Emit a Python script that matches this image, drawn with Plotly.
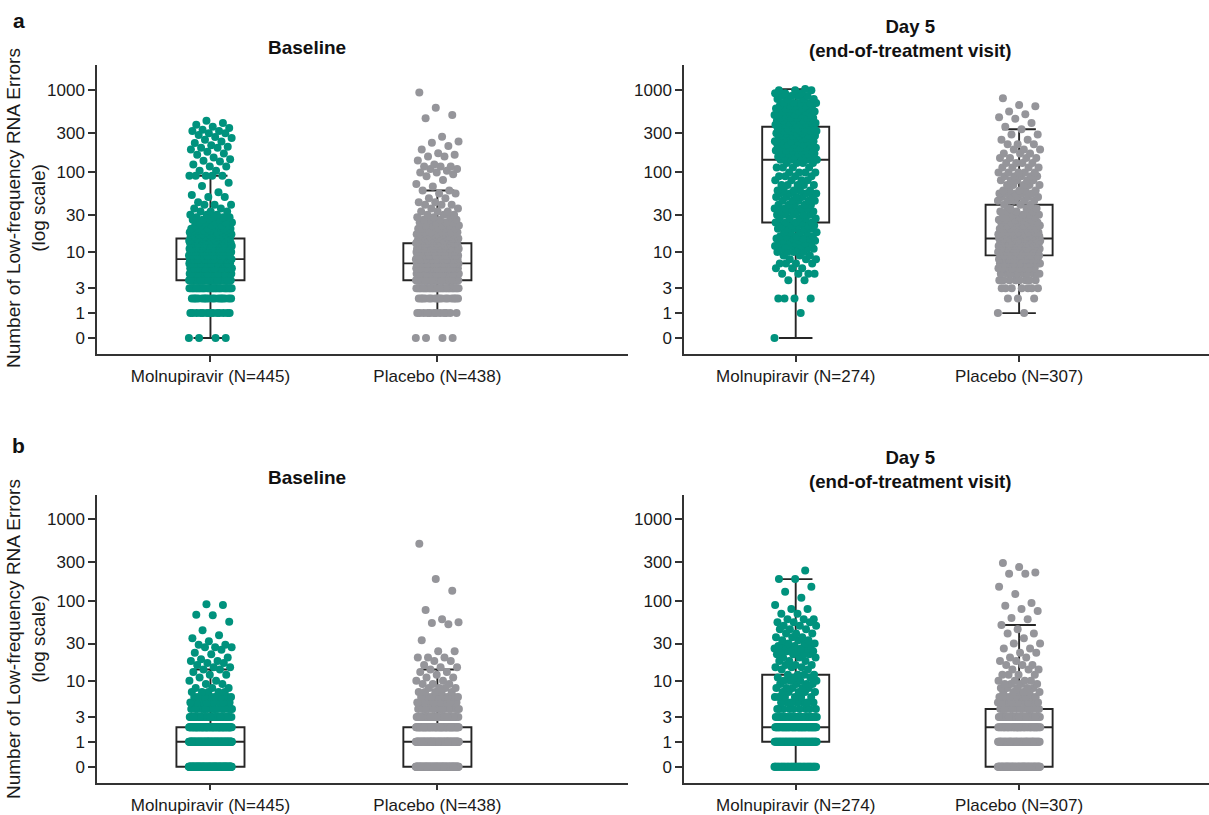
import numpy as np
import plotly.graph_objects as go

# ---------------- data (counts of low-frequency RNA errors) ----------------
group_labels_base = ["Molnupiravir (N=445)", "Placebo (N=438)"]
group_labels_day5 = ["Molnupiravir (N=274)", "Placebo (N=307)"]
tick_counts = [0, 1, 3, 10, 30, 100, 300, 1000]

# Panel a - Baseline
a_base_mol_vals = [0, 1, 2, 3, 4, 5, 6, 7, 8, 9, 10, 11, 12, 13, 14, 15, 16, 17, 18, 19, 20, 22, 24, 26, 28,
                   30, 33, 36, 40, 43, 50, 53, 57, 68, 75, 91, 105, 118, 125, 136, 139, 145, 152, 164, 170,
                   179, 190, 200, 205, 215, 228, 238, 250, 262, 270, 285, 300, 320, 330, 347, 360, 380, 400, 425]
a_base_mol_counts = [4, 14, 16, 32, 40, 32, 30, 28, 27, 23, 20, 18, 16, 13, 11, 10, 9, 8, 7, 6, 6, 6, 5, 4, 4,
                     3, 3, 2, 3, 1, 2, 1, 1, 1, 1, 5, 2, 2, 1, 1, 1, 1, 1, 1, 1,
                     1, 1, 2, 1, 1, 1, 1, 1, 1, 1, 1, 2, 2, 1, 1, 1, 1, 1, 1]
a_base_pla_vals = [0, 1, 2, 3, 4, 5, 6, 7, 8, 9, 10, 11, 12, 13, 14, 15, 16, 17, 18, 20, 22, 24, 26, 28, 30,
                   33, 36, 40, 43, 48, 55, 60, 67, 72, 81, 90, 95, 100, 105, 110, 118, 125, 140, 156, 164,
                   172, 190, 210, 230, 238, 273, 455, 500, 612, 935]
a_base_pla_counts = [4, 12, 16, 34, 48, 36, 34, 33, 23, 23, 21, 18, 14, 12, 10, 9, 8, 7, 6, 7, 5, 4, 4, 3, 3,
                     3, 2, 3, 2, 2, 2, 2, 1, 1, 1, 1, 1, 2, 1, 2, 3, 1, 1, 2, 1,
                     1, 1, 1, 1, 1, 1, 1, 1, 1, 1]

# Panel a - Day 5
a_day5_mol_vals = [0, 1, 2, 4, 5, 6, 7, 8, 9, 10, 11, 12, 13, 14, 15, 16, 18, 20, 22, 24,
                   27, 30, 33, 36, 40, 45, 50, 55, 60, 70, 80, 90, 100, 115, 130,
                   143, 155, 170, 185, 200, 220, 240, 260, 280, 300, 320, 340,
                   380, 400, 430, 460, 500, 550, 600, 650, 700, 780, 850, 920, 1000, 1030]
a_day5_mol_counts = [1, 1, 4, 2, 4, 3, 4, 3, 3, 4, 4, 4, 4, 4, 4, 4, 5, 5, 5, 5,
                     5, 5, 4, 5, 5, 5, 5, 4, 5, 5, 4, 4, 4, 4, 4,
                     4, 5, 6, 5, 6, 6, 6, 6, 6, 6, 6, 6,
                     6, 6, 6, 6, 6, 5, 5, 5, 5, 4, 4, 3, 3, 1]
a_day5_pla_vals = [1, 2, 3, 4, 5, 6, 7, 8, 9, 10, 11, 12, 13, 14, 15, 16, 17, 18, 20, 22, 24, 26, 28,
                   30, 33, 36, 40, 45, 50, 55, 60, 70, 80, 90, 100, 115, 130, 150, 170, 190, 220,
                   250, 290, 335, 360, 400, 450, 470, 510, 550, 640, 660, 800]
a_day5_pla_counts = [2, 3, 7, 8, 10, 12, 14, 16, 16, 15, 14, 13, 12, 11, 10, 9, 8, 7, 8, 7, 6, 5, 5,
                     4, 4, 3, 3, 5, 5, 5, 5, 5, 5, 5, 5, 4, 4, 4, 3, 3, 3,
                     2, 2, 1, 1, 1, 1, 1, 1, 1, 1, 1, 1]

# Panel b - Baseline
b_base_mol_vals = [0, 1, 2, 3, 4, 5, 6, 7, 8, 9, 10, 11, 12, 13, 14, 15, 16, 17, 18, 19, 20, 22, 23, 25,
                   27, 29, 32, 35, 38, 44, 56, 67, 68, 90, 92]
b_base_mol_counts = [135, 125, 75, 28, 16, 12, 10, 5, 3, 2, 2, 1, 2, 1, 2, 2, 1, 2, 2, 1, 1, 1, 1, 1,
                     3, 2, 1, 1, 1, 1, 1, 1, 1, 1, 1]
b_base_pla_vals = [0, 1, 2, 3, 4, 5, 6, 7, 8, 9, 10, 11, 12, 13, 14, 15, 16, 18, 20, 24, 33, 52, 54, 55,
                   60, 78, 134, 186, 500]
b_base_pla_counts = [129, 125, 80, 30, 16, 11, 8, 5, 4, 3, 2, 2, 1, 2, 1, 2, 1, 2, 3, 2, 1, 1, 1, 1,
                     1, 1, 1, 1, 1]

# Panel b - Day 5
b_day5_mol_vals = [0, 1, 2, 3, 4, 5, 6, 7, 8, 9, 10, 11, 12, 14, 15, 16, 18, 20, 22, 24, 26, 28,
                   30, 33, 36, 40, 45, 50, 55, 60, 70, 80, 90, 110, 130, 150, 186, 237]
b_day5_mol_counts = [35, 55, 50, 22, 9, 7, 6, 5, 5, 4, 4, 3, 4, 2, 3, 3, 3, 3, 4, 4, 4, 4,
                     3, 3, 3, 3, 3, 3, 3, 3, 2, 2, 1, 1, 1, 1, 2, 1]
b_day5_pla_vals = [0, 1, 2, 3, 4, 5, 6, 7, 8, 9, 10, 12, 14, 16, 18, 20, 23, 26, 30, 35, 40, 45, 51,
                   60, 62, 76, 80, 88, 95, 122, 150, 216, 224, 260, 291]
b_day5_pla_counts = [79, 60, 44, 34, 15, 10, 8, 6, 5, 4, 4, 4, 3, 3, 2, 2, 2, 2, 2, 1, 2, 1, 1,
                     1, 1, 1, 1, 1, 1, 1, 1, 2, 1, 1, 1]

# Box statistics: [lower whisker, Q1, median, Q3, upper whisker]
a_base_mol_box = [0, 4, 8, 15, 91]
a_base_pla_box = [1, 4, 7, 13, 60]
a_day5_mol_box = [0, 24, 143, 360, 1030]
a_day5_pla_box = [1, 9, 15, 40, 335]
b_base_mol_box = [0, 0, 1, 2, 14]
b_base_pla_box = [0, 0, 1, 2, 14]
b_day5_mol_box = [0, 1, 2, 12, 186]
b_day5_pla_box = [0, 0, 2, 4, 51]

# ---------------- styling ----------------
W, H = 1209, 815
TEAL = "#00927D"
GREY = "#95959A"
LINE = "#262626"
FONT = "Arial, Liberation Sans, Helvetica, sans-serif"


def jitter(n, half):
    i = np.arange(n)
    return ((i * 0.6180339887498949) % 1.0 - 0.5) * 2 * half


panels = [
    dict(ax="", xd=[97 / W, 628 / W], yd=[1 - 354 / H, 1 - 65 / H], xr=[-0.5, 1.84], yr=[-0.194, 3.305],
         labels=group_labels_base,
         data=[(a_base_mol_vals, a_base_mol_counts, a_base_mol_box, TEAL),
               (a_base_pla_vals, a_base_pla_counts, a_base_pla_box, GREY)]),
    dict(ax="2", xd=[684 / W, 1.0], yd=[1 - 354 / H, 1 - 65 / H], xr=[-0.5, 1.85], yr=[-0.194, 3.305],
         labels=group_labels_day5,
         data=[(a_day5_mol_vals, a_day5_mol_counts, a_day5_mol_box, TEAL),
               (a_day5_pla_vals, a_day5_pla_counts, a_day5_pla_box, GREY)]),
    dict(ax="3", xd=[97 / W, 628 / W], yd=[1 - 782.7 / H, 1 - 495 / H], xr=[-0.5, 1.84], yr=[-0.194, 3.29],
         labels=group_labels_base,
         data=[(b_base_mol_vals, b_base_mol_counts, b_base_mol_box, TEAL),
               (b_base_pla_vals, b_base_pla_counts, b_base_pla_box, GREY)]),
    dict(ax="4", xd=[684 / W, 1.0], yd=[1 - 782.7 / H, 1 - 495 / H], xr=[-0.5, 1.85], yr=[-0.194, 3.29],
         labels=group_labels_day5,
         data=[(b_day5_mol_vals, b_day5_mol_counts, b_day5_mol_box, TEAL),
               (b_day5_pla_vals, b_day5_pla_counts, b_day5_pla_box, GREY)]),
]

fig = go.Figure()
layout = dict(width=W, height=H, margin=dict(l=0, r=0, t=0, b=0), showlegend=False,
              paper_bgcolor="white", plot_bgcolor="white", font=dict(family=FONT, color="#1a1a1a"))

for p in panels:
    xa, ya = "x" + p["ax"], "y" + p["ax"]
    for gi, (vals, counts, box, col) in enumerate(p["data"]):
        y = np.repeat(np.array(vals, dtype=float), counts) + 1.0
        x = gi + jitter(len(y), 0.095)
        fig.add_trace(go.Scatter(x=x, y=y, mode="markers", xaxis=xa, yaxis=ya,
                                 marker=dict(size=8, color=col, line=dict(width=0)),
                                 hoverinfo="y"))
    for gi, (vals, counts, box, col) in enumerate(p["data"]):
        b = np.array(box, dtype=float) + 1.0
        fig.add_trace(go.Box(x=[gi], lowerfence=[b[0]], q1=[b[1]], median=[b[2]], q3=[b[3]],
                             upperfence=[b[4]], xaxis=xa, yaxis=ya, width=0.3, whiskerwidth=0.5,
                             boxpoints=False, fillcolor="rgba(0,0,0,0)",
                             line=dict(color=LINE, width=1.9)))
    layout["xaxis" + p["ax"]] = dict(domain=p["xd"], anchor=ya, range=p["xr"], tickvals=[0, 1],
                                     ticktext=p["labels"], showline=True, linecolor="#333333",
                                     linewidth=1.5, ticks="outside", ticklen=6, tickwidth=1.5,
                                     tickcolor="#333333", showgrid=False, zeroline=False,
                                     tickfont=dict(size=17, family=FONT, color="#1a1a1a"),
                                     automargin=False, fixedrange=True)
    layout["yaxis" + p["ax"]] = dict(domain=p["yd"], anchor=xa, type="log", range=p["yr"],
                                     tickvals=[c + 1 for c in tick_counts],
                                     ticktext=[str(c) for c in tick_counts],
                                     showline=True, linecolor="#333333", linewidth=1.5,
                                     ticks="outside", ticklen=7, tickwidth=1.5, tickcolor="#333333",
                                     showgrid=False, zeroline=False,
                                     tickfont=dict(size=17, family=FONT, color="#1a1a1a"),
                                     automargin=False, fixedrange=True)

ann = []
# panel letters
ann.append(dict(text="<b>a</b>", x=11 / W, y=1 - 21 / H, xref="paper", yref="paper",
                xanchor="left", yanchor="middle", showarrow=False, font=dict(size=21, family=FONT, color="#111")))
ann.append(dict(text="<b>b</b>", x=10 / W, y=1 - 446 / H, xref="paper", yref="paper",
                xanchor="left", yanchor="middle", showarrow=False, font=dict(size=21, family=FONT, color="#111")))
# panel titles
for yc in (48, 478):
    ann.append(dict(text="<b>Baseline</b>", x=307 / W, y=1 - yc / H, xref="paper", yref="paper",
                    xanchor="center", yanchor="middle", showarrow=False,
                    font=dict(size=19, family=FONT, color="#111")))
for yc in (39, 469):
    ann.append(dict(text="<b>Day 5</b><br><b>(end-of-treatment visit)</b>", x=910 / W, y=1 - yc / H,
                    xref="paper", yref="paper", xanchor="center", yanchor="middle", showarrow=False,
                    font=dict(size=18.6, family=FONT, color="#111")))
# y-axis titles
for yc in (208, 639):
    ann.append(dict(text="Number of Low-frequency RNA Errors<br>(log scale)", x=26 / W, y=1 - yc / H,
                    xref="paper", yref="paper", xanchor="center", yanchor="middle", textangle=-90,
                    showarrow=False, font=dict(size=19, family=FONT, color="#1a1a1a")))
layout["annotations"] = ann

fig.update_layout(**layout)
fig.write_html("out.html", config={"displayModeBar": False},
               post_script="document.body.style.margin='0px';document.body.style.overflow='hidden';")
